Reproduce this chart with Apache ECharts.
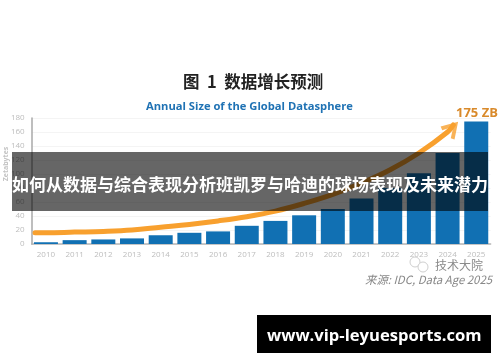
<!DOCTYPE html>
<html><head><meta charset="utf-8">
<style>html,body{margin:0;padding:0;background:#fff}#c{width:500px;height:362px}</style>
<script src="https://cdn.jsdelivr.net/npm/echarts@6/dist/echarts.min.js"></script>
</head><body><div id="c"></div>
<script>
const years = ['2010','2011','2012','2013','2014','2015','2016','2017','2018','2019','2020','2021','2022','2023','2024','2025'];
const sizes = [2.5,5.5,6.5,8,12.5,16,18,26,33,41,50,65,80,101,130,175];
const yTicks = [0,20,40,60,80,100,120,140,160,180];
const trendX = [2009.62,2010,2011,2012,2013,2014,2015,2016,2017,2018,2019,2020,2021,2022,2023,2024,2024.2];
const trendY = [16,16,17,18,20,24,28,33,39,47,58,71,87,106,130,160,170];
const titleText = '图  1  数据增长预测';
const subtitleText = 'Annual Size of the Global Datasphere';
const calloutText = '175 ZB';
const yName = 'Zetabytes';
const bannerText = '如何从数据与综合表现分析班凯罗与哈迪的球场表现及未来潜力';
const siteText = 'www.vip-leyuesports.com';
const markText = '技术大院';
const sourceText = '来源: IDC, Data Age 2025';

const cjk = '"Noto Sans CJK SC","Noto Sans",sans-serif';
const latin = '"Open Sans","Noto Sans",sans-serif';
const chart = echarts.init(document.getElementById('c'), null, {renderer:'canvas'});
const txt = (x,y,text,style) => ({type:'text',x,y,z:style.z||5,style:Object.assign({text,textVerticalAlign:'middle'},style)});
chart.setOption({
  animation:false,
  backgroundColor:'#fff',
  grid:{left:31.6,top:118,width:459,height:126},
  xAxis:[
    {type:'category',data:years,boundaryGap:true,
     axisLine:{show:true,lineStyle:{color:'#b5b5b5',width:1.5}},axisTick:{show:false},
     axisLabel:{color:'#bdbdbd',fontSize:8,fontFamily:latin,margin:7,interval:0},splitLine:{show:false}},
    {type:'value',min:2009.5,max:2025.5,show:false}
  ],
  yAxis:{type:'value',min:0,max:180,interval:20,
    axisLine:{show:true,lineStyle:{color:'#a8a8a8',width:1.5}},axisTick:{show:false},
    axisLabel:{color:'#bdbdbd',fontSize:8,fontFamily:latin,margin:7,
      customValues:yTicks},
    splitLine:{show:true,lineStyle:{color:'#f4f4f4',width:1}}},
  series:[
    {type:'bar',data:sizes,barWidth:24,itemStyle:{color:'#1170b3'},z:2},
    {type:'line',xAxisIndex:1,data:trendX.map((x,i)=>[x,trendY[i]]),smooth:0.4,showSymbol:false,
     lineStyle:{color:'#f8a02e',width:5,cap:'round'},z:3},
    {type:'scatter',xAxisIndex:1,data:[[trendX[trendX.length-1],trendY[trendY.length-1]]],
     symbol:'path://M0 20 L9 0 L18 20 L14.5 22 L9 9 L3.5 22 Z',symbolSize:[19,17],symbolRotate:-43,
     symbolOffset:[-1,3],itemStyle:{color:'#f8a02e'},z:3}
  ],
  graphic:[
    txt(183,82,titleText,{fontFamily:cjk,fontSize:16.5,fontWeight:'bold',fill:'#222'}),
    txt(146,107,subtitleText,{fontFamily:latin,fontSize:11.2,fontWeight:'bold',fill:'#1f72b4'}),
    txt(456,113,calloutText,{fontFamily:latin,fontSize:13,fontWeight:'bold',fill:'#d98a2b'}),
    {type:'text',x:6,y:164,rotation:Math.PI/2,z:5,style:{text:yName,fontFamily:latin,fontSize:7,fontWeight:'bold',fill:'#c4c4c4',textAlign:'center',textVerticalAlign:'middle'}},
    {type:'circle',shape:{cx:415,cy:262,r:5},z:5,style:{fill:'none',stroke:'#cfcfcf',lineWidth:1}},
    {type:'circle',shape:{cx:423,cy:267,r:5},z:5,style:{fill:'#fff',stroke:'#cfcfcf',lineWidth:1}},
    txt(435,265,markText,{fontFamily:cjk,fontSize:12,fill:'#8a8a8a'}),
    txt(365,280,sourceText,{fontFamily:'"Noto Sans CJK SC","Open Sans",sans-serif',fontSize:11.4,fontStyle:'italic',fill:'#888'}),
    {type:'rect',shape:{x:12,y:152,width:476,height:59},z:10,style:{fill:'rgba(0,0,0,0.6)'}},
    txt(12,185,bannerText,{z:11,fontFamily:cjk,fontSize:17,fontWeight:'bold',fill:'#fff'}),
    {type:'rect',shape:{x:257,y:315,width:234,height:38},z:10,style:{fill:'#000'}},
    txt(267,336,siteText,{z:11,fontFamily:latin,fontSize:16.6,fontWeight:'bold',fill:'#fff'})
  ]
});
</script></body></html>
